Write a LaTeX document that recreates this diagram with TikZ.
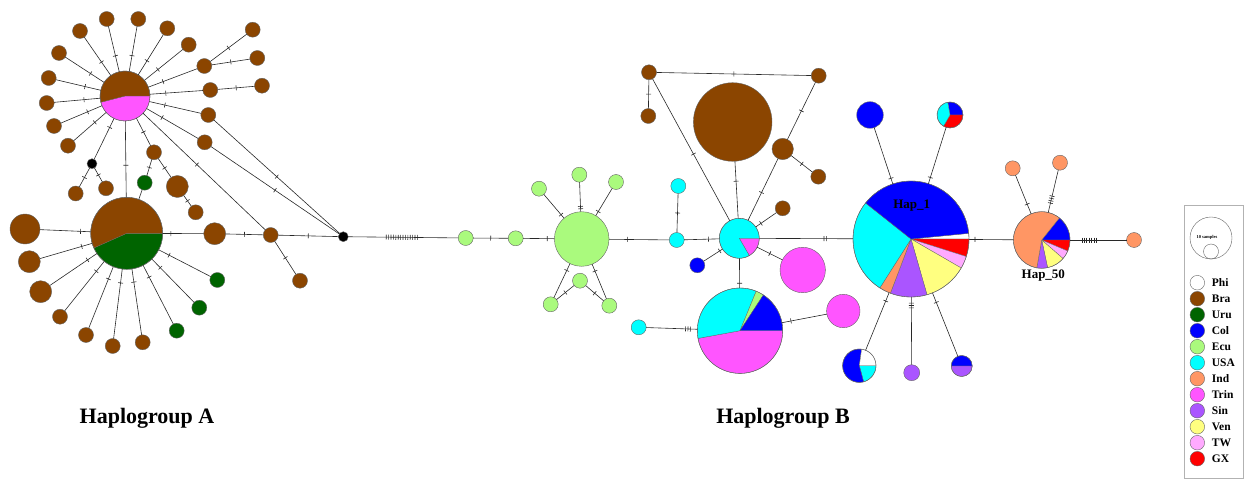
\documentclass[tikz,border=0pt]{standalone}
\usepackage{fontspec}
\setmainfont{Liberation Serif}
\usetikzlibrary{decorations.markings}
\definecolor{cPhi}{RGB}{255,255,255}
\definecolor{cBra}{RGB}{139,69,0}
\definecolor{cUru}{RGB}{0,100,0}
\definecolor{cCol}{RGB}{0,0,255}
\definecolor{cEcu}{RGB}{170,250,125}
\definecolor{cUSA}{RGB}{0,255,255}
\definecolor{cInd}{RGB}{255,150,100}
\definecolor{cTrin}{RGB}{255,85,255}
\definecolor{cSin}{RGB}{170,85,255}
\definecolor{cVen}{RGB}{255,255,128}
\definecolor{cTW}{RGB}{255,170,255}
\definecolor{cGX}{RGB}{255,0,0}
\definecolor{outl}{RGB}{100,100,100}
\definecolor{edgec}{RGB}{40,40,40}
\newcommand{\pieat}[3]{\foreach \sa/\sb/\sc in {#3}{\filldraw[fill=\sc, slice] (#1) -- ++(\sa:#2) arc[start angle=\sa, end angle=\sb, radius=#2] -- cycle;}}
\tikzset{
 hap/.style={circle, draw=outl, line width=0.4pt, inner sep=0pt, outer sep=0pt, minimum size={2*#1pt}},
 edge/.style={draw=edgec, line width=0.6pt},
 tk/.style={postaction={decorate, decoration={markings, mark=at position #1 with {\draw[edgec, line width=0.6pt] (0,-2.5)--(0,2.5);}}}},
 hatch/.style args={#1/#2}{postaction={decorate, decoration={markings, mark=between positions #1 and #2 step 2.4pt with {\draw[edgec, line width=0.6pt] (0,-2.5)--(0,2.5);}}}},
 slice/.style={draw=outl, line width=0.3pt},
 lab/.style={font=\bfseries\fontsize{13}{13}\selectfont, inner sep=0pt},
 big/.style={font=\bfseries\fontsize{22}{22}\selectfont, inner sep=0pt},
 legt/.style={font=\bfseries\fontsize{11.5}{11.5}\selectfont, inner sep=0pt, anchor=west},
}
\begin{document}
\begin{tikzpicture}[x=1pt,y=-1pt]
\useasboundingbox (0,0) rectangle (1244,481);
% ================= Haplogroup A =================
\pieat{125,96}{25}{0/165.5/cTrin,165.5/360/cBra}
\node[hap=25] (U) at (125,96) {};
\pieat{126.7,233.3}{36}{0/156/cUru,156/360/cBra}
\node[hap=36] (L) at (126.7,233.3) {};
\node[hap=7.5, fill=cBra] (a1) at (106.7,19) {};
\node[hap=7.5, fill=cBra] (a2) at (138.3,19) {};
\node[hap=7.5, fill=cBra] (a3) at (80,31) {};
\node[hap=7.5, fill=cBra] (a4) at (167.3,28.3) {};
\node[hap=7.5, fill=cBra] (a5) at (59,53) {};
\node[hap=7.5, fill=cBra] (a6) at (188.7,44.7) {};
\node[hap=7.5, fill=cBra] (a7) at (48.7,78) {};
\node[hap=7.5, fill=cBra] (a8) at (46.7,103) {};
\node[hap=7.5, fill=cBra] (a9) at (54,126) {};
\node[hap=7.5, fill=cBra] (a10) at (68,145.7) {};
\node[hap=7.5, fill=cBra] (a11) at (204.3,66) {};
\node[hap=7.5, fill=cBra] (a11a) at (252.7,29.7) {};
\node[hap=7.5, fill=cBra] (a11b) at (257.3,58) {};
\node[hap=7.5, fill=cBra] (a12) at (210.3,90) {};
\node[hap=7.5, fill=cBra] (a12a) at (262,85.7) {};
\node[hap=7.5, fill=cBra] (a13) at (208.3,115) {};
\node[hap=7.5, fill=cBra] (a14) at (204.7,142.3) {};
\node[hap=5, fill=black] (b0) at (92,163.7) {};
\node[hap=7.5, fill=cBra] (a15) at (75.7,193.5) {};
\node[hap=7.5, fill=cBra] (a16) at (106,188.3) {};
\node[hap=7.5, fill=cBra] (a17) at (154,152.3) {};
\node[hap=11, fill=cBra] (a18) at (177.3,186.5) {};
\node[hap=7.5, fill=cBra] (a19) at (195.7,212.3) {};
\node[hap=7.5, fill=cUru] (g1) at (144.7,182.7) {};
\node[hap=15, fill=cBra] (l1) at (25,229) {};
\node[hap=11, fill=cBra] (l2) at (29.3,261.7) {};
\node[hap=11, fill=cBra] (l3) at (40.7,291.7) {};
\node[hap=7.5, fill=cBra] (l4) at (60,316.7) {};
\node[hap=7.5, fill=cBra] (l5) at (86,335) {};
\node[hap=7.5, fill=cBra] (l6) at (112.7,346) {};
\node[hap=7.5, fill=cBra] (l7) at (142.7,342.3) {};
\node[hap=7.5, fill=cUru] (l8) at (176.7,330.7) {};
\node[hap=7.5, fill=cUru] (l9) at (199.3,307.7) {};
\node[hap=7.5, fill=cUru] (l10) at (217.3,280) {};
\node[hap=11, fill=cBra] (c1) at (214.7,233.7) {};
\node[hap=7.5, fill=cBra] (c2) at (270.7,235) {};
\node[hap=7.5, fill=cBra] (c3) at (300,280.7) {};
\node[hap=5, fill=black] (B1) at (343.3,236.7) {};
\foreach \n in {a1,a2,a3,a4,a5,a6,a7,a8,a9,a10}{\draw[edge,tk=0.35] (U)--(\n);}
\draw[edge,tk=0.3] (U)--(a11);
\draw[edge,tk=0.5] (a11)--(a11a);
\draw[edge,tk=0.5] (a11)--(a11b);
\draw[edge,tk=0.3] (U)--(a12);
\draw[edge,tk=0.5] (a12)--(a12a);
\draw[edge,tk=0.3] (U)--(a13);
\draw[edge,tk=0.5] (a13)--(B1);
\draw[edge,tk=0.3] (U)--(a14);
\draw[edge,tk=0.5] (a14)--(B1);
\draw[edge,tk=0.22] (U)--(b0);
\draw[edge,tk=0.5] (b0)--(a15);
\draw[edge,tk=0.5] (b0)--(a16);
\draw[edge,tk=0.58] (U)--(L);
\draw[edge,tk=0.5] (U)--(a17);
\draw[edge,tk=0.5] (a17)--(g1);
\draw[edge,tk=0.5] (a17)--(a18);
\draw[edge,tk=0.5] (a18)--(a19);
\draw[edge] (g1)--(L);
\draw[edge,tk=0.44] (U)--(c2);
\foreach \n in {l1,l2,l3,l4,l5,l6,l7,l8,l9,l10}{\draw[edge,tk=0.2] (L)--(\n);}
\draw[edge,tk=0.2] (L)--(c1);
\draw[edge,tk=0.5] (c1)--(c2);
\draw[edge,tk=0.5] (c2)--(B1);
\draw[edge,tk=0.5] (c2)--(c3);
% ================= Haplogroup B =================
\node[hap=7.5, fill=cEcu] (e1) at (465.7,238) {};
\node[hap=7.5, fill=cEcu] (e2) at (515.7,238.3) {};
\node[hap=27.3, fill=cEcu] (E) at (581.7,239) {};
\node[hap=7.5, fill=cEcu] (e3) at (539,188.7) {};
\node[hap=7.5, fill=cEcu] (e4) at (579.3,174.7) {};
\node[hap=7.5, fill=cEcu] (e5) at (616,182) {};
\node[hap=7.5, fill=cEcu] (e6) at (580,280.7) {};
\node[hap=7.5, fill=cEcu] (e7) at (550.7,304.3) {};
\node[hap=7.5, fill=cEcu] (e8) at (609.3,305.7) {};
\node[hap=7.5, fill=cUSA] (u1) at (676.7,240) {};
\node[hap=7.5, fill=cUSA] (u2) at (678.3,186) {};
\pieat{739.3,238.3}{20}{0/60/cTrin,60/360/cUSA}
\node[hap=20] (P) at (739.3,238.3) {};
\node[hap=7.5, fill=cBra] (br1) at (649,72.3) {};
\node[hap=7.5, fill=cBra] (br2) at (648.3,116) {};
\node[hap=7.5, fill=cBra] (br3) at (818.7,75.7) {};
\node[hap=10.7, fill=cBra] (br4) at (782.7,149) {};
\node[hap=7.5, fill=cBra] (br5) at (818.3,176.7) {};
\node[hap=39.3, fill=cBra] (BIG) at (732.7,122) {};
\node[hap=7.5, fill=cBra] (br6) at (782.7,208.3) {};
\node[hap=7.5, fill=cCol] (cb1) at (697.3,265.3) {};
\node[hap=22.7, fill=cTrin] (pk1) at (802.7,270) {};
\pieat{740,330.7}{42.7}{0/169.6/cTrin,169.6/292.3/cUSA,292.3/303.2/cEcu,303.2/360/cCol}
\node[hap=42.7] (Q) at (740,330.7) {};
\node[hap=7.5, fill=cUSA] (u3) at (638.7,327.3) {};
\node[hap=16.7, fill=cTrin] (pk2) at (843.3,311) {};
\pieat{911,239}{58}{354.4/360/cPhi,0/17.6/cGX,17.6/30/cTW,30/74/cVen,74/110.8/cSin,110.8/122.5/cInd,122.5/218.4/cUSA,218.4/354.4/cCol}
\node[hap=58] (H1) at (911,239) {};
\node[hap=13.3, fill=cCol] (hb1) at (870,115) {};
\pieat{950,115}{13}{260/360/cCol,0/120/cGX,120/260/cUSA}
\node[hap=13] (hp1) at (950,115) {};
\pieat{859.3,365.7}{16.7}{0/75/cUSA,75/278/cCol,278/360/cPhi}
\node[hap=16.7] (hp2) at (859.3,365.7) {};
\node[hap=8, fill=cSin] (hs1) at (911.7,372.7) {};
\pieat{961.7,366}{10.5}{180/360/cCol,0/180/cSin}
\node[hap=10.5] (hp3) at (961.7,366) {};
\pieat{1041.7,240}{28.3}{308.7/360/cCol,0/23/cGX,23/41/cTW,41/78/cVen,78/100/cSin,100/308.7/cInd}
\node[hap=28.3] (K) at (1041.7,240) {};
\node[hap=7.5, fill=cInd] (k1) at (1012.7,168.3) {};
\node[hap=7.5, fill=cInd] (k2) at (1060,162.7) {};
\node[hap=7.5, fill=cInd] (k3) at (1134,240) {};
\draw[edge,hatch=0.345/0.635] (B1)--(e1);
\draw[edge,tk=0.5] (e1)--(e2);
\draw[edge,tk=0.77] (e2)--(E);
\draw[edge,tk=0.15] (E)--(e3);
\draw[edge,hatch=0.1/0.2] (E)--(e4);
\draw[edge,tk=0.15] (E)--(e5);
\draw[edge,tk=0.2] (E)--(e7);
\draw[edge,tk=0.2] (E)--(e8);
\draw[edge,tk=0.5] (e6)--(e7);
\draw[edge,tk=0.5] (e6)--(e8);
\draw[edge,tk=0.31] (E)--(u1);
\draw[edge,tk=0.5] (u1)--(u2);
\draw[edge,tk=0.69] (u1)--(P);
\draw[edge,tk=0.47] (P)--(br1);
\draw[edge,tk=0.5] (br1)--(br2);
\draw[edge,tk=0.5] (br1)--(br3);
\draw[edge,tk=0.5] (br3)--(br4);
\draw[edge,tk=0.5] (br4)--(br5);
\draw[edge,tk=0.45] (P)--(br4);
\draw[edge,tk=0.65] (P)--(BIG);
\draw[edge,tk=0.25] (P)--(br6);
\draw[edge,tk=0.15] (P)--(cb1);
\draw[edge,tk=0.5] (P)--(pk1);
\draw[edge,tk=0.84] (P)--(Q);
\draw[edge,hatch=0.77/0.87] (u3)--(Q);
\draw[edge,tk=0.2] (Q)--(pk2);
\draw[edge,hatch=0.69/0.72] (P)--(H1);
\draw[edge,tk=0.1] (H1)--(hb1);
\draw[edge,tk=0.11] (H1)--(hp1);
\draw[edge,tk=0.145] (H1)--(hp2);
\draw[edge,hatch=0.09/0.165] (H1)--(hs1);
\draw[edge,tk=0.15] (H1)--(hp3);
\draw[edge,tk=0.135] (H1)--(K);
\draw[edge,tk=0.25] (K)--(k1);
\draw[edge,hatch=0.22/0.39] (K)--(k2);
\draw[edge,hatch=0.21/0.47] (K)--(k3);
% labels
\node[lab] (t1) at (911.7,205.7) {Hap\_1};
\node[lab] (t2) at (1043.3,276) {Hap\_50};
\node[big] (hA) at (147,418) {Haplogroup A};
\node[big] (hB) at (783,418) {Haplogroup B};
% legend
\draw[draw=gray!60, line width=0.6pt] (1184.5,205.5) rectangle (1243.5,478.5);
\node[hap=21, fill=white] (ls1) at (1211,238) {};
\node[hap=7.5] (ls2) at (1211,251.5) {};
\node[font=\bfseries\fontsize{4.5}{4.5}\selectfont, inner sep=0pt] (ls3) at (1207,237.5) {10 samples};
\foreach \c/\t [count=\i] in {cPhi/Phi,cBra/Bra,cUru/Uru,cCol/Col,cEcu/Ecu,cUSA/USA,cInd/Ind,cTrin/Trin,cSin/Sin,cVen/Ven,cTW/TW,cGX/GX}{
  \node[hap=7.3, fill=\c] (lg\i) at (1197.3,{282.7+16*(\i-1)}) {};
  \node[legt] (lt\i) at (1211.7,{282.7+16*(\i-1)}) {\t};
}
\end{tikzpicture}
\end{document}
